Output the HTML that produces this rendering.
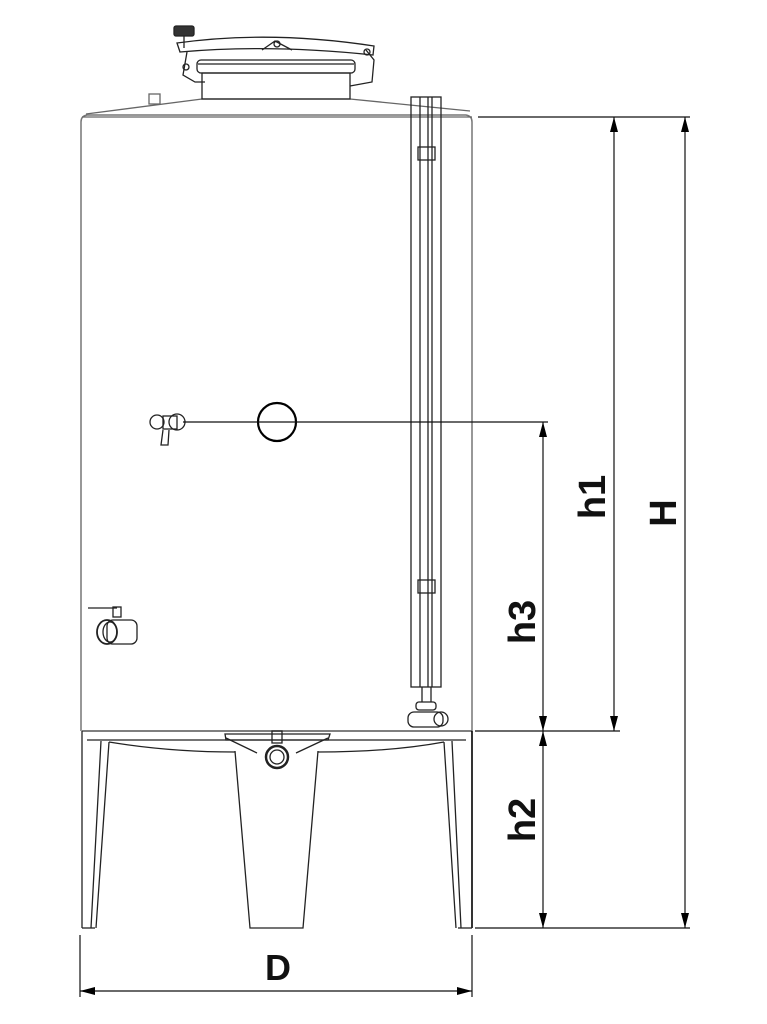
<!DOCTYPE html>
<html><head><meta charset="utf-8"><style>
html,body{margin:0;padding:0;background:#fff;}
svg{display:block}
text{font-family:"Liberation Sans",sans-serif;font-weight:bold;fill:#111}
</style></head><body>
<svg width="767" height="1024" viewBox="0 0 767 1024" xmlns="http://www.w3.org/2000/svg">
<defs>
<marker id="a" viewBox="0 0 10 10" refX="10" refY="5" markerWidth="15" markerHeight="8" preserveAspectRatio="none" orient="auto-start-reverse" markerUnits="userSpaceOnUse"><path d="M0,0 L10,5 L0,10 z" fill="#000"/></marker>
</defs>
<g fill="none" stroke="#222" stroke-width="1.3">
<path d="M81,731 L81,122 Q81,116 87,115 L466,115 Q472,116 472,122 L472,731" stroke="#777" stroke-width="1.5"/>
<line x1="82" y1="117" x2="472" y2="117" stroke="#666"/>
<path d="M86,114 L202,99 L350,99 L470,111" stroke="#666"/>
<rect x="149" y="94" width="11" height="10" stroke="#666"/>
<rect x="202" y="73" width="148" height="26"/>
<rect x="197" y="60" width="158" height="13" rx="4"/>
<line x1="198" y1="64" x2="354" y2="64"/>
<path d="M177,43 Q270,30 374,46 L373,55 Q270,44 180,52 z"/>
<path d="M262,50 L275,41 L292,50"/>
<circle cx="277" cy="44" r="3"/>
<rect x="174" y="26" width="20" height="10" rx="2" fill="#333"/>
<line x1="184" y1="36" x2="184" y2="48"/>
<path d="M187,52 L183,75 L195,82 L205,82"/>
<circle cx="186" cy="67" r="3"/>
<path d="M366,50 L374,60 L372,82 L350,86"/>
<circle cx="367" cy="52" r="3"/>
<rect x="411" y="97" width="30" height="590"/>
<line x1="420" y1="97" x2="420" y2="687"/>
<line x1="428" y1="97" x2="428" y2="687"/>
<line x1="432" y1="97" x2="432" y2="687"/>
<rect x="418" y="147" width="17" height="13"/>
<rect x="418" y="580" width="17" height="13"/>
<line x1="422" y1="687" x2="422" y2="702"/><line x1="431" y1="687" x2="431" y2="702"/>
<rect x="416" y="702" width="20" height="8" rx="3"/>
<rect x="408" y="712" width="35" height="15" rx="6"/>
<circle cx="441" cy="719" r="7"/>
<circle cx="157" cy="422" r="7"/>
<rect x="163" y="416" width="14" height="13"/>
<circle cx="177" cy="422" r="8"/>
<path d="M163,430 L161,445 L168,445 L169,430"/>
<circle cx="277" cy="422" r="19" stroke="#000" stroke-width="2.2"/>
<ellipse cx="107" cy="632" rx="10" ry="12" stroke-width="1.8"/>
<ellipse cx="110" cy="632" rx="7" ry="10"/>
<rect x="107" y="620" width="30" height="24" rx="6"/>
<line x1="88" y1="608" x2="117" y2="608"/>
<rect x="113" y="607" width="8" height="10"/>
<line x1="82" y1="731" x2="472" y2="731" stroke="#555" stroke-width="1.6"/>
<line x1="87" y1="740" x2="466" y2="740"/>
<line x1="82" y1="731" x2="82" y2="928"/>
<line x1="472" y1="731" x2="472" y2="928" stroke="#000" stroke-width="1.6"/>
<line x1="82" y1="928" x2="95" y2="928"/>
<line x1="458" y1="928" x2="472" y2="928"/>
<path d="M101,741 L91,928 M109,742 L96,928"/>
<path d="M452,741 L461,928 M444,742 L456,928"/>
<path d="M109,742 Q170,752 235,752 M318,752 Q390,752 444,742"/>
<path d="M235,751 L250,928 L303,928 L318,751"/>
<path d="M226,738 L257,753 M328,738 L296,753"/>
<path d="M225,734 L330,734 L328,740 L226,740 z"/>
<circle cx="277" cy="757" r="11" stroke-width="2.5"/>
<circle cx="277" cy="757" r="7"/>
<rect x="272" y="731" width="10" height="12"/>
</g>
<g stroke="#111" stroke-width="1.2" fill="none">
<line x1="478" y1="117" x2="690" y2="117"/>
<line x1="183" y1="422" x2="548" y2="422"/>
<line x1="475" y1="731" x2="620" y2="731"/>
<line x1="475" y1="928" x2="690" y2="928"/>
<line x1="80" y1="935" x2="80" y2="997"/>
<line x1="472" y1="935" x2="472" y2="997"/>
<line x1="543" y1="422" x2="543" y2="731" marker-start="url(#a)" marker-end="url(#a)"/>
<line x1="543" y1="731" x2="543" y2="928" marker-start="url(#a)" marker-end="url(#a)"/>
<line x1="614" y1="117" x2="614" y2="731" marker-start="url(#a)" marker-end="url(#a)"/>
<line x1="685" y1="117" x2="685" y2="928" marker-start="url(#a)" marker-end="url(#a)"/>
<line x1="80" y1="991" x2="472" y2="991" marker-start="url(#a)" marker-end="url(#a)"/>
</g>
<text x="278" y="980" font-size="36" text-anchor="middle">D</text>
<text transform="translate(605,497) rotate(-90)" font-size="38" text-anchor="middle">h1</text>
<text transform="translate(676,513) rotate(-90)" font-size="38" text-anchor="middle">H</text>
<text transform="translate(535,622) rotate(-90)" font-size="38" text-anchor="middle">h3</text>
<text transform="translate(535,820) rotate(-90)" font-size="38" text-anchor="middle">h2</text>
</svg>
</body></html>
